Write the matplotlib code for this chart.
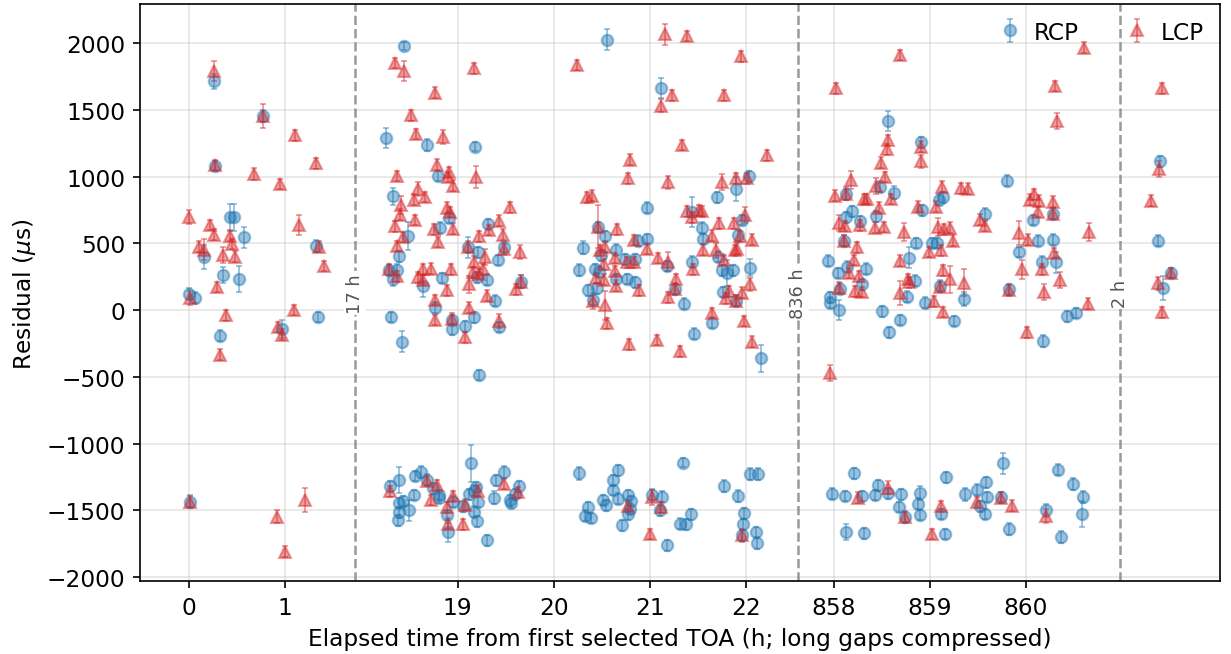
import numpy as np
import matplotlib
matplotlib.use('Agg')
import matplotlib.pyplot as plt

plt.rcParams['font.family'] = ['DejaVu Sans']
plt.rcParams['font.size'] = 11.2

# ---- данные: время (ч от первого TOA), остаток (мкс), ошибка (мкс) ----
rcp_t = [
    0.26, 0.77, 0.27, 0.43, 0.47, 0.57, 0.16, 0.36, 0.52, 0.00, 0.06, 0.32, 0.97, 1.32, 1.34, 0.01,
    18.44, 18.25, 18.68, 19.18, 18.79, 18.33, 18.91, 18.82, 18.48, 19.32, 19.11, 19.48, 19.21, 18.39,
    19.42, 18.37, 18.28, 18.33, 18.84, 18.64, 19.20, 19.30, 19.66, 19.39, 18.76, 19.17, 18.94, 18.94,
    19.08, 19.43, 18.31, 18.42, 19.22,
    19.14, 18.62, 18.56, 18.39, 18.29, 18.68, 18.74, 19.48, 19.40, 19.64, 18.54, 18.43, 18.39, 18.81,
    18.80, 18.95, 19.05, 19.12, 19.19, 19.21, 19.38, 19.54, 19.56, 19.60, 18.49, 18.39, 18.38, 18.89,
    18.90, 19.17, 19.20, 19.31, 19.17,
    20.56, 21.12, 20.97, 20.53, 20.46, 20.31, 20.97, 20.88, 20.65, 20.74, 20.85, 20.49, 20.26, 20.43,
    20.47, 20.45, 20.36, 20.41, 20.65, 20.76, 20.85, 21.18, 21.26, 21.36, 21.44, 21.44, 21.46, 21.54,
    21.56,
    20.26, 20.67, 20.62, 20.62, 21.35, 20.36, 20.33, 20.39, 20.51, 20.54, 20.67, 20.77, 20.81, 20.79,
    20.77, 20.71, 21.02, 21.13, 21.11, 21.18, 21.32, 21.38, 21.43,
    21.70, 21.90, 22.03, 21.96, 21.92, 21.71, 21.75, 21.80, 21.87, 22.04, 21.76, 21.90, 21.65, 22.16,
    21.77, 21.92, 22.04, 22.13, 21.98, 21.97, 21.96, 22.11, 22.12,
    857.94, 857.96, 857.96, 858.05, 858.04, 858.14, 858.06, 858.29, 858.33, 858.27, 858.19, 858.12,
    858.10, 858.12,
    857.98, 858.11, 858.21, 858.29, 858.13, 858.31,
    858.56, 858.91, 858.48, 858.62, 858.92, 859.09, 859.14, 858.44, 859.57, 859.80, 858.85, 859.02,
    859.07, 858.78, 858.84, 859.10, 858.76, 858.95, 859.35, 859.93, 859.82, 858.50, 858.69, 858.57,
    859.25, 860.07,
    858.46, 858.43, 858.56, 858.70, 858.68, 858.74, 858.90, 858.88, 858.90, 859.17, 859.11, 859.16,
    859.36, 859.49, 859.52, 859.57, 859.58, 859.59, 859.76, 859.74, 859.82,
    860.13, 860.28, 860.28, 860.17, 860.31, 860.43, 860.52, 860.18,
    860.33, 860.49, 860.59, 860.21, 860.58, 860.36,
    862.66, 862.63, 862.77, 862.69,
]
rcp_res = [
    1713, 1452, 1079, 696, 696, 545, 396, 263, 234, 122, 94, -191, -141, 480, -52, -1435,
    1974, 1288, 1233, 1225, 1004, 852, 691, 618, 558, 644, 469, 469, 433, 404,
    375, 302, 297, 232, 240, 182, 245, 227, 214, 70, 18, -55, -73, -144,
    -120, -126, -52, -235, -485,
    -1148, -1215, -1242, -1273, -1320, -1268, -1333, -1215, -1273, -1320, -1383, -1430, -1443, -1404,
    -1383, -1435, -1469, -1378, -1325, -1435, -1404, -1424, -1443, -1378, -1500, -1513, -1573, -1534,
    -1664, -1508, -1581, -1724, -1351,
    2026, 1666, 766, 553, 623, 467, 532, 521, 453, 380, 380, 409, 300, 305,
    287, 162, 148, 75, 234, 234, 208, 331, 156, 49, 735, 362, -175, 618,
    532,
    -1221, -1200, -1273, -1346, -1143, -1477, -1539, -1555, -1422, -1461, -1411, -1383, -1430, -1487,
    -1529, -1612, -1385, -1396, -1500, -1761, -1599, -1604, -1529,
    845, 905, 1001, 675, 560, 401, 297, 279, 297, 318, 135, 70, -94, -360,
    -1318, -1391, -1226, -1226, -1521, -1604, -1685, -1664, -1743,
    370, 96, 57, 0, 279, 326, 161, 193, 310, 665, 740, 696,
    521, 866,
    -1373, -1391, -1221, -1391, -1664, -1672,
    1418, 1257, 923, 879, 748, 826, 845, 701, 722, 970, 503, 503,
    503, 393, 221, 182, 101, 57, 83, 435, 156, -8, -73, -165,
    -81, 675,
    -1312, -1383, -1372, -1378, -1474, -1547, -1370, -1450, -1534, -1252, -1526, -1677,
    -1378, -1343, -1469, -1526, -1289, -1398, -1148, -1398, -1638,
    521, 527, 722, 362, 357, -47, -21, -230,
    -1195, -1299, -1396, -1500, -1526, -1698,
    1113, 521, 279, 169,
]
rcp_err = [
    55, 45, 40, 100, 100, 80, 90, 60, 100, 40, 40, 40, 65, 45, 40, 50,
    30, 75, 45, 35, 35, 65, 40, 40, 105, 40, 80, 40, 40, 40,
    40, 40, 40, 50, 40, 80, 40, 40, 50, 40, 40, 40, 40, 40,
    40, 40, 40, 80, 40,
    135, 45, 40, 95, 40, 40, 40, 50, 40, 40, 40, 40, 40, 40,
    40, 40, 40, 40, 40, 40, 50, 40, 40, 40, 80, 40, 40, 40,
    70, 40, 40, 40, 40,
    75, 75, 40, 40, 40, 50, 40, 40, 40, 40, 40, 40, 45, 40,
    40, 40, 40, 40, 40, 40, 40, 40, 40, 40, 110, 40, 40, 40,
    40,
    50, 40, 40, 40, 35, 40, 40, 40, 40, 40, 40, 40, 40, 40,
    40, 40, 40, 40, 40, 40, 40, 40, 40,
    40, 90, 40, 40, 40, 40, 40, 100, 40, 65, 40, 40, 40, 100,
    45, 45, 45, 45, 40, 40, 40, 40, 45,
    40, 40, 40, 75, 40, 40, 40, 40, 40, 40, 40, 40,
    40, 40,
    40, 40, 40, 40, 60, 40,
    75, 40, 40, 50, 40, 40, 40, 40, 40, 40, 40, 40,
    40, 80, 40, 40, 40, 40, 50, 40, 40, 40, 40, 40,
    40, 40,
    40, 40, 40, 40, 40, 40, 50, 40, 40, 40, 40, 40,
    50, 40, 40, 40, 40, 40, 80, 40, 45,
    40, 40, 40, 40, 80, 40, 40, 45,
    40, 45, 45, 45, 100, 45,
    40, 40, 40, 90,
]

lcp_t = [
    0.26, 0.77, 1.11, 1.32, 0.27, 0.68, 0.95, 0.00, 0.22, 0.26, 1.15, 0.10, 0.16, 0.43, 0.45, 0.36,
    0.48, 1.36, 1.41, 0.29, 0.01, 0.39, 1.09, 0.93, 0.97, 0.32, 0.01, 1.21, 0.92, 1.00,
    18.35, 18.44, 19.17, 18.76, 18.51, 18.57, 18.85, 18.78, 18.91, 18.90, 18.95, 19.19, 18.37, 18.59,
    18.54, 18.66, 18.41, 18.40, 18.89, 18.92, 19.54, 18.55, 18.35, 18.75, 18.95, 19.43, 19.33, 18.43,
    19.47, 19.22, 18.79, 18.37, 19.11, 19.48, 19.65, 19.28, 19.17, 18.28, 18.37, 18.64, 18.72, 18.59,
    18.64, 18.93, 19.16, 19.26, 19.22, 19.12, 18.89, 19.61, 19.66, 19.31, 18.76, 19.12, 18.76, 18.94,
    19.43, 19.08,
    18.29, 18.68, 18.78, 18.72, 18.89, 18.95, 18.90, 19.05, 19.08, 19.21, 19.48, 19.63,
    21.16, 21.39, 20.24, 21.23, 21.12, 21.34, 20.79, 20.77, 21.19, 20.35, 20.40, 21.39, 21.44, 21.51,
    21.54, 20.46, 20.66, 20.84, 20.97, 20.48, 20.53, 20.52, 20.64, 20.76, 20.84, 21.09, 21.19, 20.44,
    20.52, 20.64, 20.65, 20.89, 21.27, 21.26, 21.45, 21.56, 21.19, 20.41, 20.53, 20.55, 20.78, 21.08,
    21.32,
    20.77, 21.02, 21.12, 21.00,
    21.95, 21.77, 22.22, 21.75, 21.90, 22.01, 21.72, 21.88, 21.99, 21.65, 21.94, 22.07, 21.69, 21.89,
    21.91, 21.77, 22.04, 21.96, 21.83, 21.79, 21.90, 21.65, 21.98, 22.07, 21.96,
    858.02, 858.18, 858.01, 858.12, 858.31, 858.05, 858.11, 858.27, 858.10, 858.24, 858.21, 858.16,
    858.26, 858.05, 858.22, 858.29, 857.96, 858.25,
    858.69, 858.56, 858.55, 858.91, 858.91, 858.49, 858.53, 858.44, 858.59, 858.34, 858.47, 859.13,
    859.32, 859.40, 859.06, 858.88, 858.43, 858.52, 858.73, 859.08, 859.15, 859.21, 859.52, 859.57,
    859.93, 860.02, 860.04, 859.24, 858.99, 859.11, 858.69, 859.14, 859.21, 859.35, 858.77, 858.78,
    858.69, 859.10, 859.04, 859.14, 859.96, 859.82, 860.01,
    858.56, 858.74, 859.11, 859.02, 859.49, 859.74, 859.85,
    860.60, 860.30, 860.32, 860.08, 860.14, 860.28, 860.13, 860.28, 860.66, 860.29, 860.17, 860.35,
    860.19, 860.65, 860.21,
    862.68, 862.65, 862.56, 862.77, 862.63, 862.68,
]
lcp_res = [
    1791, 1452, 1309, 1100, 1087, 1022, 944, 696, 638, 566, 638, 474, 453, 558, 495, 414,
    401, 474, 331, 174, 91, -39, 0, -126, -183, -334, -1435, -1424, -1547, -1808,
    1851, 1791, 1809, 1627, 1458, 1319, 1296, 1090, 1035, 996, 931, 996, 1004, 907,
    826, 847, 787, 714, 766, 735, 769, 675, 628, 605, 610, 670, 599, 547,
    566, 552, 511, 479, 474, 456, 435, 396, 362, 305, 253, 305, 310, 245,
    227, 305, 284, 305, 271, 193, 148, 156, 214, 109, 75, 18, -73, -65,
    -81, -204,
    -1357, -1278, -1312, -1422, -1477, -1391, -1599, -1604, -1456, -1351, -1299, -1364,
    2065, 2052, 1836, 1609, 1531, 1236, 1126, 988, 957, 845, 858, 740, 696, 748,
    740, 625, 605, 526, 461, 448, 474, 344, 391, 357, 357, 391, 362, 240,
    227, 292, 182, 148, 234, 161, 305, 453, 96, 70, 36, -99, -256, -224,
    -308,
    -1469, -1398, -1477, -1677,
    1901, 1609, 1160, 962, 988, 988, 651, 651, 714, 558, 553, 527, 448, 448,
    461, 375, 193, 130, 140, 88, 70, -21, -81, -235, -1685,
    1661, 975, 858, 871, 832, 651, 631, 636, 521, 469, 375, 279,
    253, 167, 141, 135, -472, -1404,
    1909, 1270, 1205, 1225, 1113, 1105, 996, 931, 832, 832, 766, 923,
    912, 910, 774, 774, 618, 623, 584, 623, 605, 618, 678, 631,
    579, 527, 826, 521, 435, 448, 370, 297, 232, 206, 234, 208,
    130, 174, 65, -13, 305, 148, -165,
    -1330, -1552, -1469, -1677, -1438, -1404, -1464,
    1966, 1679, 1413, 866, 819, 813, 735, 722, 584, 427, 305, 227,
    135, 49, -1542,
    1661, 1053, 819, 279, 201, -16,
]
lcp_err = [
    75, 90, 40, 40, 40, 45, 40, 50, 40, 40, 75, 40, 80, 40, 40, 60,
    40, 40, 40, 40, 50, 40, 40, 40, 40, 40, 40, 90, 50, 40,
    40, 75, 40, 40, 40, 40, 50, 40, 40, 40, 40, 80, 40, 55,
    40, 40, 65, 40, 40, 40, 40, 40, 40, 40, 40, 40, 40, 40,
    40, 40, 40, 40, 40, 40, 50, 60, 40, 40, 40, 40, 40, 40,
    40, 40, 40, 40, 40, 65, 40, 40, 50, 40, 40, 40, 40, 40,
    50, 40,
    40, 40, 40, 40, 40, 40, 40, 40, 40, 40, 40, 40,
    80, 40, 40, 40, 50, 40, 40, 40, 50, 40, 40, 40, 40, 40,
    40, 160, 40, 40, 40, 40, 40, 40, 40, 40, 40, 40, 70, 40,
    40, 40, 40, 40, 40, 40, 40, 40, 40, 60, 110, 40, 40, 40,
    40,
    40, 60, 40, 40,
    40, 40, 40, 60, 40, 40, 40, 40, 60, 40, 40, 40, 55, 40,
    40, 40, 50, 40, 40, 40, 40, 40, 40, 40, 50,
    40, 70, 40, 50, 40, 60, 40, 40, 40, 40, 40, 40,
    40, 40, 40, 40, 60, 40,
    40, 40, 40, 40, 50, 40, 40, 60, 40, 40, 40, 40,
    40, 40, 40, 40, 40, 40, 70, 70, 40, 40, 40, 40,
    90, 40, 40, 40, 40, 40, 40, 40, 100, 100, 40, 40,
    90, 40, 40, 40, 70, 40, 40,
    50, 40, 40, 40, 40, 40, 40,
    40, 40, 60, 40, 40, 40, 40, 40, 70, 40, 40, 60,
    60, 40, 50,
    40, 60, 40, 40, 50, 40,
]

GAP_LIMIT = 1.0     # ч: промежутки длиннее этого сжимаются
GAP_SHOWN = 0.64    # ч: ширина сжатого промежутка на оси

# ---- сжатие длинных промежутков ----
all_t = np.unique(np.concatenate([rcp_t, lcp_t]))
d = np.diff(all_t)
gap_idx = np.where(d > GAP_LIMIT)[0]
gap_start = all_t[gap_idx]
gap_end = all_t[gap_idx + 1]
gap_len = gap_end - gap_start


def compress(t):
    t = np.asarray(t, dtype=float)
    out = t.copy()
    for s, g in zip(gap_start, gap_len):
        out[t > s] -= g - GAP_SHOWN
    return out


fig, ax = plt.subplots(figsize=(1231 / 150, 655 / 150), dpi=150)
fig.subplots_adjust(left=0.1137, right=0.991, top=0.992, bottom=0.111)

ax.errorbar(compress(rcp_t), rcp_res, yerr=rcp_err, fmt='o', color='tab:blue',
            ms=5.5, alpha=0.45, elinewidth=0.9, capsize=1.5, capthick=0.9, label='RCP')
ax.errorbar(compress(lcp_t), lcp_res, yerr=lcp_err, fmt='^', color='tab:red',
            ms=6, alpha=0.45, elinewidth=0.9, capsize=1.5, capthick=0.9, label='LCP')

# линии разрывов
for s, e, g in zip(gap_start, gap_end, gap_len):
    xm = (compress([s])[0] + compress([e])[0]) / 2
    ax.axvline(xm, color='gray', ls='--', lw=1.2, alpha=0.8)
    ax.text(xm, 0.5, f'{g:.0f} h', transform=ax.get_xaxis_transform(), rotation=90,
            ha='center', va='center', fontsize=8.5, color='#555555',
            bbox=dict(facecolor='white', edgecolor='none', pad=1.0))

# подписи оси x: целые часы внутри каждого сегмента
bounds = np.concatenate([[all_t[0]], gap_end])
ends = np.concatenate([gap_start, [all_t[-1]]])
ticks = []
for b, e in zip(bounds, ends):
    ticks += list(range(int(np.ceil(b)), int(np.floor(e)) + 1))
ax.set_xticks(compress(ticks))
ax.set_xticklabels([str(v) for v in ticks])

xc = compress(all_t)
ax.set_xlim(xc.min() - 0.51, xc.max() + 0.51)
ax.set_ylim(-2030, 2290)
ax.set_yticks(np.arange(-2000, 2001, 500))

ax.grid(True, color='#cccccc', alpha=0.5, lw=0.8)
ax.set_axisbelow(True)
ax.set_xlabel('Elapsed time from first selected TOA (h; long gaps compressed)')
ax.set_ylabel(r'Residual ($\mu$s)')
ax.legend(loc='upper right', ncol=2, frameon=False, handlelength=1.0,
          handletextpad=0.5, columnspacing=2.0, borderaxespad=0.3)

fig.savefig('out.png', dpi=150)
